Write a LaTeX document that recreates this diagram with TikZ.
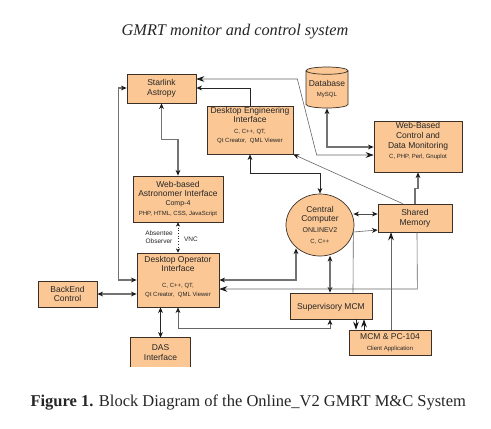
\documentclass[tikz,border=0pt]{standalone}
\usepackage{fontspec}
\setmainfont{Liberation Sans}
\newfontfamily\capfont{Liberation Serif}
\usepackage{xcolor}
\usetikzlibrary{arrows.meta, calc, shapes.geometric}
\definecolor{blockfill}{HTML}{FBC794}
\definecolor{blockline}{HTML}{3A3028}
\newcommand{\subtxt}[1]{{\fontsize{6}{7}\selectfont #1}}

\begin{document}
\begin{tikzpicture}[x=1pt, y=-1pt, >={Stealth[length=2mm, width=1.7mm, color=black!90]},
    every node/.style={font=\fontsize{8.5}{9.6}\selectfont, text=black!85},
    block/.style={draw=blockline, line width=0.7pt, fill=blockfill, align=center, inner sep=0pt},
    link/.style={draw=black!85, line width=0.7pt, <->},
    heavy/.style={draw=black!55, line width=1.4pt, <->},
    fine/.style={draw=black!60, line width=0.6pt, ->},
    bigtip/.style={>={Stealth[length=2.8mm, width=2mm, color=black!90]}}]
  \useasboundingbox (0,0) rectangle (491,429);
  \fill[white] (0,0) rectangle (491,429);
  \node[font=\capfont\itshape\fontsize{16.3}{18}\selectfont] (title) at (235,31.5) {GMRT monitor and control system};
  \node[anchor=west, font=\capfont\fontsize{16.5}{18}\selectfont] (caption) at (27,402.5) {\textbf{Figure 1.} Block Diagram of the Online\_V2 GMRT M\&C System};

  \node[block, minimum width=69pt, minimum height=29pt] (starlink) at (161.5,88.5) {Starlink\\Astropy};
  \node[block, minimum width=86pt, minimum height=48pt] (engineering) at (250,130) {Desktop Engineering\\Interface\\[1pt]\subtxt{C, C++, QT,}\\[-1pt]\subtxt{Qt Creator,\ \ QML Viewer}\\[1pt]\mbox{}};
  \node[block, minimum width=90pt, minimum height=46pt] (astronomer) at (178,199) {Web-based\\Astronomer Interface\\[-1pt]{\fontsize{7}{8}\selectfont Comp-4}\\[1pt]\subtxt{PHP, HTML, CSS, JavaScript}};
  \node[block, minimum width=82pt, minimum height=54pt] (operator) at (178,280) {Desktop Operator\\Interface\\[6pt]\subtxt{C, C++, QT,}\\[-1pt]\subtxt{Qt Creator,\ \ QML Viewer}\\[-2pt]\mbox{}};
  \node[block, minimum width=59pt, minimum height=26pt] (backend) at (67.5,294) {BackEnd\\Control};
  \node[block, draw=none, minimum width=59pt, minimum height=29pt] (das) at (160.5,352.5) {DAS\\Interface};
  \node[block, cylinder, shape border rotate=90, aspect=0.2, minimum width=42pt, minimum height=41pt, cylinder uses custom fill, cylinder body fill=blockfill, cylinder end fill=blockfill!75] (database) at (327,89.5) {\mbox{}\\[-4pt]Database\\[1pt]\subtxt{MySQL}};
  \node[block, minimum width=88pt, minimum height=51pt] (webcontrol) at (418,146.5) {Web-Based\\Control and\\Data Monitoring\\[1pt]\subtxt{C, PHP, Perl, Gnuplot}\\[2pt]\mbox{}};
  \node[block, ellipse, minimum width=68pt, minimum height=62pt] (central) at (320,225) {Central\\Computer\\[1pt]{\fontsize{7}{8}\selectfont ONLINEV2}\\[1pt]\subtxt{C, C++}};
  \node[block, minimum width=74pt, minimum height=28pt] (shared) at (415,218) {Shared\\Memory};
  \node[block, minimum width=82pt, minimum height=26pt] (supervisory) at (331,306) {\mbox{}\\[0pt]Supervisory MCM};
  \node[block, minimum width=82pt, minimum height=25pt] (pcmcm) at (390,342.5) {MCM \& PC-104\\[1pt]\subtxt{Client Application}};

  % das box is open at the bottom
  \draw[draw=blockline, line width=0.7pt] (das.south west) -- (das.north west) -- (das.north east) -- (das.south east);

  \draw[heavy] (starlink.south) -- ++(0,36) -| (astronomer.north);
  \draw[link, <-] ($(starlink.east)+(0,-0.5)$) -| (engineering.north);
  \draw[fine, <->, bigtip] ($(starlink.east)+(0,-9.5)$) -- ($(starlink.east)+(101,-9.5)$) -- ($(webcontrol.west)+(-57,8.5)$) -- ($(webcontrol.west)+(0,8.5)$);
  \draw[heavy] ($(starlink.west)+(0,-0.5)$) -- ($(starlink.west)+(-8,-0.5)$) |- (operator.west);
  \draw[link] (engineering.south) |- ($(central.north)+(0,-20)$) -- (central.north);
  \draw[heavy] (database.south) |- ($(webcontrol.west)+(0,0.5)$);
  \draw[heavy, <-] (webcontrol.south) -- ++(0,16) -- ++(-3,0) -- (shared.north);
  \draw[fine, <-] (engineering.south east) -- ($(shared.north west)+(25,0)$);
  \draw[link, draw=black!70] ($(central.east)+(-1,-11)$) -- ($(shared.west)+(0,-4)$);
  \draw[fine] ($(central.east)+(-1,7)$) -- ($(shared.west)+(0,12)$);
  \draw[fine, -] ($(central.east)+(-1,7)$) -- ($(supervisory.north)+(22,0)$);
  \draw[heavy] ($(central.south)+(10,-0.5)$) -- ($(supervisory.north)+(-1,0)$);
  \draw[heavy] ($(central.south)+(-24,-8)$) |- (operator.east);
  \draw[fine, <-, bigtip] ($(operator.east)+(0,9)$) -- ($(operator.east)+(198,9)$) -- ($(shared.south)+(2,0)$);
  \draw[fine, <->] (operator.south) -- ++(0,21) -| ($(supervisory.south)+(-1,0)$);
  \draw[link, ->, bigtip] ($(supervisory.south)+(25,0)$) -- ($(pcmcm.north)+(-34,0)$);
  \draw[link, <-, bigtip] ($(supervisory.south)+(33,0)$) -- ($(pcmcm.north)+(-26,0)$);
  \draw[fine, bigtip] ($(pcmcm.north)+(1,0)$) -- ($(shared.south)+(-24,0)$);
  \draw[heavy] (backend.east) -- (operator.west |- backend.east);
  \draw[link] (operator.south -| das.north) -- (das.north);
  \draw[link, dotted, >={Stealth[length=1.5mm, width=1.5mm, color=black!90]}] (astronomer.south) -- (operator.north);

  \node[font=\fontsize{6.5}{7.5}\selectfont, align=center] (absentee) at (159,237) {Absentee\\Observer};
  \node[font=\fontsize{6.5}{7.5}\selectfont] (vnc) at (191,239) {VNC};
\end{tikzpicture}
\end{document}
